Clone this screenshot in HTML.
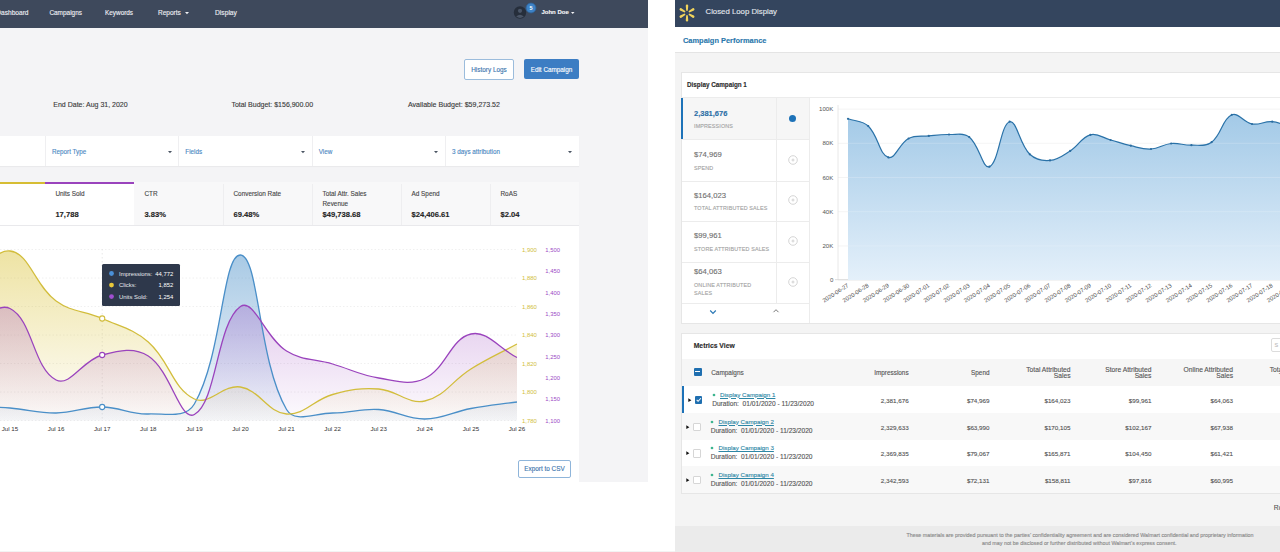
<!DOCTYPE html>
<html><head><meta charset="utf-8"><style>*{margin:0;padding:0;box-sizing:border-box}
html,body{width:1280px;height:552px;overflow:hidden;background:#fff;font-family:"Liberation Sans",sans-serif}
.a{position:absolute;white-space:nowrap;-webkit-text-stroke:0.12px currentColor}
#L{position:absolute;left:0;top:0;width:648px;height:482px;background:#f4f4f6;overflow:hidden}
#R{position:absolute;left:675px;top:0;width:605px;height:552px;background:#f4f4f4;overflow:hidden}
</style></head><body>
<div id="L">
<div class="a" style="left:0;top:0;width:648px;height:27.6px;background:#3e495c"></div>
<div class="a" style="left:-271.5px;width:300px;text-align:right;top:7.90px;font-size:6.6px;line-height:10px;color:#eef0f4;font-weight:normal;">Dashboard</div>
<div class="a" style="left:49.4px;top:7.90px;font-size:6.45px;line-height:10px;color:#eef0f4;font-weight:normal;">Campaigns</div>
<div class="a" style="left:105px;top:7.90px;font-size:6.4px;line-height:10px;color:#eef0f4;font-weight:normal;">Keywords</div>
<div class="a" style="left:158px;top:7.90px;font-size:6.5px;line-height:10px;color:#eef0f4;font-weight:normal;">Reports</div>
<svg class="a" style="left:183.50px;top:11.20px" width="6.00" height="4.20" viewBox="-1 -1 6.00 4.20"><path d="M0,0H4L2.0,2.2Z" fill="#eef0f4"/></svg>
<div class="a" style="left:215px;top:7.90px;font-size:6.7px;line-height:10px;color:#eef0f4;font-weight:normal;">Display</div>
<svg class="a" style="left:510px;top:2px" width="30" height="22" viewBox="0 0 30 22"><circle cx="10" cy="10.5" r="6.2" fill="#262e3b"/><circle cx="10" cy="8.8" r="2.1" fill="#4a5567"/><path d="M6.2,14.6 Q10,10.8 13.8,14.6 Q10,17.2 6.2,14.6Z" fill="#4a5567"/><circle cx="21" cy="6" r="5" fill="#3d82c6" stroke="#2f5f93" stroke-width="0.8"/><text x="21" y="8" font-size="5.5" font-weight="bold" fill="#fff" text-anchor="middle" font-family="Liberation Sans">5</text></svg>
<div class="a" style="left:541.4px;top:7.30px;font-size:6.0px;line-height:10px;color:#f4f5f7;font-weight:bold;">John Doe</div>
<svg class="a" style="left:569.55px;top:10.90px" width="5.50" height="4.00" viewBox="-1 -1 5.50 4.00"><path d="M0,0H3.5L1.75,2Z" fill="#f4f5f7"/></svg>
<div class="a" style="left:464px;top:59px;width:50px;height:21px;background:#fff;border:1px solid #9bbcdc;border-radius:2px"></div>
<div class="a" style="left:339px;width:300px;text-align:center;top:64.60px;font-size:6.4px;line-height:10px;color:#3a74ad;font-weight:normal;">History Logs</div>
<div class="a" style="left:524px;top:59px;width:55px;height:20px;background:#3c7dc3;border-radius:2px"></div>
<div class="a" style="left:401.5px;width:300px;text-align:center;top:64.50px;font-size:6.35px;line-height:10px;color:#ffffff;font-weight:normal;">Edit Campaign</div>
<div class="a" style="left:53.3px;top:99.80px;font-size:7.0px;line-height:10px;color:#3a3a3a;font-weight:normal;">End Date: Aug 31, 2020</div>
<div class="a" style="left:231.4px;top:99.80px;font-size:7.0px;line-height:10px;color:#3a3a3a;font-weight:normal;">Total Budget: $156,900.00</div>
<div class="a" style="left:408px;top:99.80px;font-size:7.05px;line-height:10px;color:#3a3a3a;font-weight:normal;">Available Budget: $59,273.52</div>
<div class="a" style="left:0;top:136px;width:579px;height:30px;background:#fff;box-shadow:0 1px 1px rgba(0,0,0,0.04)"></div>
<div class="a" style="left:45.0px;top:136px;width:1px;height:30px;background:#efeff1"></div>
<div class="a" style="left:178.3px;top:136px;width:1px;height:30px;background:#efeff1"></div>
<div class="a" style="left:311.7px;top:136px;width:1px;height:30px;background:#efeff1"></div>
<div class="a" style="left:445.0px;top:136px;width:1px;height:30px;background:#efeff1"></div>
<div class="a" style="left:52px;top:147.00px;font-size:6.3px;line-height:10px;color:#4a87c2;font-weight:normal;">Report Type</div>
<div class="a" style="left:185.3px;top:147.00px;font-size:6.3px;line-height:10px;color:#4a87c2;font-weight:normal;">Fields</div>
<div class="a" style="left:318.7px;top:147.00px;font-size:6.3px;line-height:10px;color:#4a87c2;font-weight:normal;">View</div>
<div class="a" style="left:452px;top:147.00px;font-size:6.3px;line-height:10px;color:#4a87c2;font-weight:normal;">3 days attribution</div>
<svg class="a" style="left:166.70px;top:150.15px" width="6.00" height="4.30" viewBox="-1 -1 6.00 4.30"><path d="M0,0H4L2.0,2.3Z" fill="#4b5563"/></svg>
<svg class="a" style="left:299.80px;top:150.15px" width="6.00" height="4.30" viewBox="-1 -1 6.00 4.30"><path d="M0,0H4L2.0,2.3Z" fill="#4b5563"/></svg>
<svg class="a" style="left:433.20px;top:150.15px" width="6.00" height="4.30" viewBox="-1 -1 6.00 4.30"><path d="M0,0H4L2.0,2.3Z" fill="#4b5563"/></svg>
<svg class="a" style="left:566.50px;top:150.15px" width="6.00" height="4.30" viewBox="-1 -1 6.00 4.30"><path d="M0,0H4L2.0,2.3Z" fill="#4b5563"/></svg>
<div class="a" style="left:0;top:182px;width:579px;height:43px;background:#f8f8f9"></div>
<div class="a" style="left:0;top:182px;width:45px;height:43px;background:#fff"></div>
<div class="a" style="left:45px;top:182px;width:89px;height:43px;background:#fff"></div>
<div class="a" style="left:0;top:182px;width:45px;height:2.3px;background:#d6bd33"></div>
<div class="a" style="left:45px;top:182px;width:89px;height:2.3px;background:#9a43bd"></div>
<div class="a" style="left:223px;top:184px;width:1px;height:41px;background:#eeeef0"></div>
<div class="a" style="left:312px;top:184px;width:1px;height:41px;background:#eeeef0"></div>
<div class="a" style="left:401px;top:184px;width:1px;height:41px;background:#eeeef0"></div>
<div class="a" style="left:490px;top:184px;width:1px;height:41px;background:#eeeef0"></div>
<div class="a" style="left:55.4px;top:188.80px;font-size:6.4px;line-height:10px;color:#474747;font-weight:normal;">Units Sold</div>
<div class="a" style="left:55.4px;top:209.80px;font-size:7.6px;line-height:10px;color:#1f1f1f;font-weight:bold;">17,788</div>
<div class="a" style="left:144.4px;top:188.80px;font-size:6.4px;line-height:10px;color:#474747;font-weight:normal;">CTR</div>
<div class="a" style="left:144.4px;top:209.80px;font-size:7.6px;line-height:10px;color:#1f1f1f;font-weight:bold;">3.83%</div>
<div class="a" style="left:233.5px;top:188.80px;font-size:6.4px;line-height:10px;color:#474747;font-weight:normal;">Conversion Rate</div>
<div class="a" style="left:233.5px;top:209.80px;font-size:7.6px;line-height:10px;color:#1f1f1f;font-weight:bold;">69.48%</div>
<div class="a" style="left:322.5px;top:188.80px;font-size:6.4px;line-height:10px;color:#474747;font-weight:normal;">Total Attr. Sales</div>
<div class="a" style="left:322.5px;top:209.80px;font-size:7.6px;line-height:10px;color:#1f1f1f;font-weight:bold;">$49,738.68</div>
<div class="a" style="left:411.5px;top:188.80px;font-size:6.4px;line-height:10px;color:#474747;font-weight:normal;">Ad Spend</div>
<div class="a" style="left:411.5px;top:209.80px;font-size:7.6px;line-height:10px;color:#1f1f1f;font-weight:bold;">$24,406.61</div>
<div class="a" style="left:500.5px;top:188.80px;font-size:6.4px;line-height:10px;color:#474747;font-weight:normal;">RoAS</div>
<div class="a" style="left:500.5px;top:209.80px;font-size:7.6px;line-height:10px;color:#1f1f1f;font-weight:bold;">$2.04</div>
<div class="a" style="left:322.5px;top:199.00px;font-size:6.4px;line-height:10px;color:#474747;font-weight:normal;">Revenue</div>
<div class="a" style="left:0;top:225px;width:579px;height:257px;background:#fff"></div>
<div class="a" style="left:0;top:224.5px;width:579px;height:1px;background:#e9e9ec"></div>
<svg class="a" style="left:0;top:225px" width="579" height="257" viewBox="0 225 579 257">
<defs><linearGradient id="gy" x1="0" y1="0" x2="0" y2="1"><stop offset="0" stop-color="#d8c030" stop-opacity="0.44"/><stop offset="1" stop-color="#d8c030" stop-opacity="0.02"/></linearGradient><linearGradient id="gp" x1="0" y1="0" x2="0" y2="1"><stop offset="0" stop-color="#9a43bd" stop-opacity="0.28"/><stop offset="1" stop-color="#9a43bd" stop-opacity="0.02"/></linearGradient><linearGradient id="gb" x1="0" y1="0" x2="0" y2="1"><stop offset="0" stop-color="#4a8fc8" stop-opacity="0.48"/><stop offset="1" stop-color="#4a8fc8" stop-opacity="0.05"/></linearGradient><clipPath id="cpl"><rect x="0" y="225" width="517.5" height="200"/></clipPath></defs>
<line x1="0" y1="249.5" x2="517" y2="249.5" stroke="#ececec" stroke-width="0.8" stroke-dasharray="1.5,2"/>
<line x1="0" y1="278" x2="517" y2="278" stroke="#ececec" stroke-width="0.8" stroke-dasharray="1.5,2"/>
<line x1="0" y1="306.5" x2="517" y2="306.5" stroke="#ececec" stroke-width="0.8" stroke-dasharray="1.5,2"/>
<line x1="0" y1="335" x2="517" y2="335" stroke="#ececec" stroke-width="0.8" stroke-dasharray="1.5,2"/>
<line x1="0" y1="363.5" x2="517" y2="363.5" stroke="#ececec" stroke-width="0.8" stroke-dasharray="1.5,2"/>
<line x1="0" y1="392" x2="517" y2="392" stroke="#ececec" stroke-width="0.8" stroke-dasharray="1.5,2"/>
<line x1="0" y1="420.5" x2="517" y2="420.5" stroke="#ececec" stroke-width="0.8" stroke-dasharray="1.5,2"/>
<line x1="102.2" y1="249" x2="102.2" y2="421" stroke="#e2e2e2" stroke-width="0.8" stroke-dasharray="1.5,2.5"/>
<g clip-path="url(#cpl)">
<path d="M-36.09,406.00C-17.65,406.80 -8.39,406.60 10.00,408.00C28.48,409.40 37.68,413.20 56.09,413.00C74.55,412.80 83.77,406.80 102.18,407.00C120.64,407.20 129.94,414.60 148.27,414.00C166.81,413.40 185.80,418.77 194.36,404.00C222.67,355.17 222.32,253.92 240.45,255.00C259.19,256.12 257.88,360.38 286.54,409.50C294.76,423.58 314.19,413.00 332.63,413.00C351.07,413.00 360.45,408.31 378.72,409.50C397.32,410.71 406.42,419.20 424.81,419.00C443.29,418.80 452.32,411.93 470.90,408.50C489.19,405.13 498.55,404.60 516.99,402.00L517,420.5L-36.09,420.5Z" fill="url(#gb)"/>
<path d="M-36.09,292.00C-17.65,275.60 -7.54,249.29 10.00,251.00C29.33,252.89 34.71,285.35 56.09,301.00C71.59,312.35 84.19,310.50 102.18,318.50C121.06,326.90 133.01,328.68 148.27,342.00C169.89,360.88 172.01,388.09 194.36,399.00C208.88,406.09 223.07,384.17 240.45,387.00C259.94,390.17 267.50,412.45 286.54,414.00C304.38,415.45 313.50,399.69 332.63,394.50C350.37,389.69 360.52,387.72 378.72,389.00C397.39,390.32 407.88,404.67 424.81,401.00C444.75,396.67 451.84,380.79 470.90,369.00C488.71,357.99 498.55,354.00 516.99,344.00L517,420.5L-36.09,420.5Z" fill="url(#gy)"/>
<path d="M-36.09,335.00C-17.65,324.40 -4.18,301.58 10.00,308.50C32.69,319.58 33.28,368.49 56.09,380.00C70.15,387.09 82.56,360.11 102.18,355.00C119.43,350.51 134.17,346.90 148.27,356.00C171.04,370.70 180.05,422.18 194.36,414.50C216.92,402.38 216.59,322.93 240.45,306.50C253.47,297.53 265.44,337.84 286.54,351.00C302.31,360.84 314.25,358.62 332.63,364.00C351.12,369.42 359.88,375.04 378.72,378.00C396.75,380.84 409.38,385.86 424.81,378.50C446.25,368.26 450.50,338.65 470.90,334.00C487.37,330.25 498.55,348.10 516.99,357.50L517,420.5L-36.09,420.5Z" fill="url(#gp)"/>
<path d="M-36.09,406.00C-17.65,406.80 -8.39,406.60 10.00,408.00C28.48,409.40 37.68,413.20 56.09,413.00C74.55,412.80 83.77,406.80 102.18,407.00C120.64,407.20 129.94,414.60 148.27,414.00C166.81,413.40 185.80,418.77 194.36,404.00C222.67,355.17 222.32,253.92 240.45,255.00C259.19,256.12 257.88,360.38 286.54,409.50C294.76,423.58 314.19,413.00 332.63,413.00C351.07,413.00 360.45,408.31 378.72,409.50C397.32,410.71 406.42,419.20 424.81,419.00C443.29,418.80 452.32,411.93 470.90,408.50C489.19,405.13 498.55,404.60 516.99,402.00" fill="none" stroke="#4a8fc8" stroke-width="1.3"/>
<path d="M-36.09,292.00C-17.65,275.60 -7.54,249.29 10.00,251.00C29.33,252.89 34.71,285.35 56.09,301.00C71.59,312.35 84.19,310.50 102.18,318.50C121.06,326.90 133.01,328.68 148.27,342.00C169.89,360.88 172.01,388.09 194.36,399.00C208.88,406.09 223.07,384.17 240.45,387.00C259.94,390.17 267.50,412.45 286.54,414.00C304.38,415.45 313.50,399.69 332.63,394.50C350.37,389.69 360.52,387.72 378.72,389.00C397.39,390.32 407.88,404.67 424.81,401.00C444.75,396.67 451.84,380.79 470.90,369.00C488.71,357.99 498.55,354.00 516.99,344.00" fill="none" stroke="#d2bd3c" stroke-width="1.3"/>
<path d="M-36.09,335.00C-17.65,324.40 -4.18,301.58 10.00,308.50C32.69,319.58 33.28,368.49 56.09,380.00C70.15,387.09 82.56,360.11 102.18,355.00C119.43,350.51 134.17,346.90 148.27,356.00C171.04,370.70 180.05,422.18 194.36,414.50C216.92,402.38 216.59,322.93 240.45,306.50C253.47,297.53 265.44,337.84 286.54,351.00C302.31,360.84 314.25,358.62 332.63,364.00C351.12,369.42 359.88,375.04 378.72,378.00C396.75,380.84 409.38,385.86 424.81,378.50C446.25,368.26 450.50,338.65 470.90,334.00C487.37,330.25 498.55,348.10 516.99,357.50" fill="none" stroke="#9a43bd" stroke-width="1.3"/>
</g>
<circle cx="102.18" cy="407" r="2.6" fill="#fff" stroke="#4a8fc8" stroke-width="1.1"/>
<circle cx="102.18" cy="318.5" r="2.6" fill="#fff" stroke="#d2bd3c" stroke-width="1.1"/>
<circle cx="102.18" cy="355" r="2.6" fill="#fff" stroke="#9a43bd" stroke-width="1.1"/>
<rect x="102" y="264" width="78" height="42" rx="1.5" fill="#2e384b"/>
<circle cx="111.5" cy="273.5" r="2.4" fill="#4a90d9"/>
<circle cx="111.5" cy="285.1" r="2.4" fill="#e8c83a"/>
<circle cx="111.5" cy="296.6" r="2.4" fill="#a04fd0"/>
<text x="119" y="275.6" font-size="5.9" fill="#e6e8ec" font-family="Liberation Sans">Impressions:</text>
<text x="173.3" y="275.6" font-size="5.9" fill="#fff" text-anchor="end" font-family="Liberation Sans">44,772</text>
<text x="119" y="287.2" font-size="5.9" fill="#e6e8ec" font-family="Liberation Sans">Clicks:</text>
<text x="173.3" y="287.2" font-size="5.9" fill="#fff" text-anchor="end" font-family="Liberation Sans">1,852</text>
<text x="119" y="298.7" font-size="5.9" fill="#e6e8ec" font-family="Liberation Sans">Units Sold:</text>
<text x="173.3" y="298.7" font-size="5.9" fill="#fff" text-anchor="end" font-family="Liberation Sans">1,254</text>
<text x="522" y="252.0" font-size="5.9" fill="#d0bd3a" font-family="Liberation Sans">1,900</text>
<text x="522" y="280.4" font-size="5.9" fill="#d0bd3a" font-family="Liberation Sans">1,880</text>
<text x="522" y="308.9" font-size="5.9" fill="#d0bd3a" font-family="Liberation Sans">1,860</text>
<text x="522" y="337.4" font-size="5.9" fill="#d0bd3a" font-family="Liberation Sans">1,840</text>
<text x="522" y="365.8" font-size="5.9" fill="#d0bd3a" font-family="Liberation Sans">1,820</text>
<text x="522" y="394.2" font-size="5.9" fill="#d0bd3a" font-family="Liberation Sans">1,800</text>
<text x="522" y="422.7" font-size="5.9" fill="#d0bd3a" font-family="Liberation Sans">1,780</text>
<text x="545.3" y="252.0" font-size="5.9" fill="#9c4bc6" font-family="Liberation Sans">1,500</text>
<text x="545.3" y="273.3" font-size="5.9" fill="#9c4bc6" font-family="Liberation Sans">1,450</text>
<text x="545.3" y="294.7" font-size="5.9" fill="#9c4bc6" font-family="Liberation Sans">1,400</text>
<text x="545.3" y="316.0" font-size="5.9" fill="#9c4bc6" font-family="Liberation Sans">1,350</text>
<text x="545.3" y="337.4" font-size="5.9" fill="#9c4bc6" font-family="Liberation Sans">1,300</text>
<text x="545.3" y="358.7" font-size="5.9" fill="#9c4bc6" font-family="Liberation Sans">1,250</text>
<text x="545.3" y="380.0" font-size="5.9" fill="#9c4bc6" font-family="Liberation Sans">1,200</text>
<text x="545.3" y="401.4" font-size="5.9" fill="#9c4bc6" font-family="Liberation Sans">1,150</text>
<text x="545.3" y="422.7" font-size="5.9" fill="#9c4bc6" font-family="Liberation Sans">1,100</text>
<text x="10.0" y="431.2" font-size="6.2" fill="#333" text-anchor="middle" font-family="Liberation Sans">Jul 15</text>
<text x="56.1" y="431.2" font-size="6.2" fill="#333" text-anchor="middle" font-family="Liberation Sans">Jul 16</text>
<text x="102.2" y="431.2" font-size="6.2" fill="#333" text-anchor="middle" font-family="Liberation Sans">Jul 17</text>
<text x="148.3" y="431.2" font-size="6.2" fill="#333" text-anchor="middle" font-family="Liberation Sans">Jul 18</text>
<text x="194.4" y="431.2" font-size="6.2" fill="#333" text-anchor="middle" font-family="Liberation Sans">Jul 19</text>
<text x="240.5" y="431.2" font-size="6.2" fill="#333" text-anchor="middle" font-family="Liberation Sans">Jul 20</text>
<text x="286.5" y="431.2" font-size="6.2" fill="#333" text-anchor="middle" font-family="Liberation Sans">Jul 21</text>
<text x="332.6" y="431.2" font-size="6.2" fill="#333" text-anchor="middle" font-family="Liberation Sans">Jul 22</text>
<text x="378.7" y="431.2" font-size="6.2" fill="#333" text-anchor="middle" font-family="Liberation Sans">Jul 23</text>
<text x="424.8" y="431.2" font-size="6.2" fill="#333" text-anchor="middle" font-family="Liberation Sans">Jul 24</text>
<text x="470.9" y="431.2" font-size="6.2" fill="#333" text-anchor="middle" font-family="Liberation Sans">Jul 25</text>
<text x="517.0" y="431.2" font-size="6.2" fill="#333" text-anchor="middle" font-family="Liberation Sans">Jul 26</text>
</svg>
<div class="a" style="left:518px;top:460px;width:53px;height:18px;background:#fff;border:1px solid #8fb5da;border-radius:2px"></div>
<div class="a" style="left:394.5px;width:300px;text-align:center;top:464.00px;font-size:6.4px;line-height:10px;color:#3a74ad;font-weight:normal;">Export to CSV</div>
</div>
<div class="a" style="left:0;top:551px;width:675px;height:1px;background:#f3f3f3"></div>
<div id="R">
<div class="a" style="left:0.00px;top:0.00px;width:605.00px;height:27.00px;background:#34455e"></div>
<svg class="a" style="left:3.2px;top:3.7px" width="18" height="18" viewBox="-9 -9 18 18"><g transform="rotate(90)"><path d="M2.9,-0.85L7.2,-1.25A1.25,1.25 0 0 1 7.2,1.25L2.9,0.85A0.85,0.85 0 0 1 2.9,-0.85Z" fill="#f0d35c"/></g><g transform="rotate(30)"><path d="M2.9,-0.85L7.2,-1.25A1.25,1.25 0 0 1 7.2,1.25L2.9,0.85A0.85,0.85 0 0 1 2.9,-0.85Z" fill="#f0d35c"/></g><g transform="rotate(-30)"><path d="M2.9,-0.85L7.2,-1.25A1.25,1.25 0 0 1 7.2,1.25L2.9,0.85A0.85,0.85 0 0 1 2.9,-0.85Z" fill="#f0d35c"/></g><g transform="rotate(-90)"><path d="M2.9,-0.85L7.2,-1.25A1.25,1.25 0 0 1 7.2,1.25L2.9,0.85A0.85,0.85 0 0 1 2.9,-0.85Z" fill="#f0d35c"/></g><g transform="rotate(-150)"><path d="M2.9,-0.85L7.2,-1.25A1.25,1.25 0 0 1 7.2,1.25L2.9,0.85A0.85,0.85 0 0 1 2.9,-0.85Z" fill="#f0d35c"/></g><g transform="rotate(150)"><path d="M2.9,-0.85L7.2,-1.25A1.25,1.25 0 0 1 7.2,1.25L2.9,0.85A0.85,0.85 0 0 1 2.9,-0.85Z" fill="#f0d35c"/></g></svg>
<div class="a" style="left:30.50px;top:7.00px;font-size:7.8px;line-height:10px;color:#e3e7ee;font-weight:normal;">Closed Loop Display</div>
<div class="a" style="left:0.00px;top:27.00px;width:605.00px;height:25.00px;background:#fff"></div>
<div class="a" style="left:0.00px;top:52.00px;width:605.00px;height:1.00px;background:#e4e4e4"></div>
<div class="a" style="left:8.00px;top:36.00px;font-size:7.45px;line-height:10px;color:#2a77ac;font-weight:bold;">Campaign Performance</div>
<div class="a" style="left:6.00px;top:72.00px;width:620.00px;height:251.50px;background:#fff;border:1px solid #e6e6e6"></div>
<div class="a" style="left:12.00px;top:79.80px;font-size:6.3px;line-height:10px;color:#2b2b2b;font-weight:bold;">Display Campaign 1</div>
<div class="a" style="left:6.00px;top:97.00px;width:620.00px;height:1.00px;background:#ececec"></div>
<div class="a" style="left:7.00px;top:98.00px;width:94.00px;height:41.00px;background:#f6f6f6"></div>
<div class="a" style="left:101.00px;top:98.00px;width:33.00px;height:41.00px;background:#f6f6f6"></div>
<div class="a" style="left:6.30px;top:98.00px;width:2.00px;height:41.00px;background:#1d72b8"></div>
<div class="a" style="left:7.00px;top:139.00px;width:127.00px;height:1.00px;background:#ececec"></div>
<div class="a" style="left:7.00px;top:180.50px;width:127.00px;height:1.00px;background:#ececec"></div>
<div class="a" style="left:7.00px;top:221.30px;width:127.00px;height:1.00px;background:#ececec"></div>
<div class="a" style="left:7.00px;top:262.00px;width:127.00px;height:1.00px;background:#ececec"></div>
<div class="a" style="left:7.00px;top:302.50px;width:127.00px;height:1.00px;background:#ececec"></div>
<div class="a" style="left:101.00px;top:98.00px;width:1.00px;height:204.50px;background:#ececec"></div>
<div class="a" style="left:133.50px;top:98.00px;width:1.00px;height:225.00px;background:#ececec"></div>
<div class="a" style="left:19.00px;top:108.50px;font-size:7.5px;line-height:10px;color:#2a6ea6;font-weight:bold;">2,381,676</div>
<div class="a" style="left:19.00px;top:120.80px;font-size:5.4px;line-height:10px;color:#a3a3a3;font-weight:normal;letter-spacing:0.15px">IMPRESSIONS</div>
<div class="a" style="left:114.20px;top:115.00px;width:7.20px;height:7.20px;background:#1d72b8;border-radius:50%"></div>
<div class="a" style="left:19.00px;top:149.70px;font-size:7.7px;line-height:10px;color:#707070;font-weight:normal;">$74,969</div>
<div class="a" style="left:19.00px;top:162.50px;font-size:5.4px;line-height:10px;color:#a3a3a3;font-weight:normal;letter-spacing:0.15px">SPEND</div>
<svg class="a" style="left:112.60px;top:154.70px" width="10" height="10" viewBox="0 0 10 10"><circle cx="5" cy="5" r="4.3" fill="none" stroke="#cacaca" stroke-width="0.8"/><path d="M3.5,5H6.5M5,3.5V6.5" stroke="#c4c4c4" stroke-width="0.7"/></svg>
<div class="a" style="left:19.00px;top:190.50px;font-size:7.7px;line-height:10px;color:#707070;font-weight:normal;">$164,023</div>
<div class="a" style="left:19.00px;top:203.20px;font-size:5.4px;line-height:10px;color:#a3a3a3;font-weight:normal;letter-spacing:0.15px">TOTAL ATTRIBUTED SALES</div>
<svg class="a" style="left:112.60px;top:195.40px" width="10" height="10" viewBox="0 0 10 10"><circle cx="5" cy="5" r="4.3" fill="none" stroke="#cacaca" stroke-width="0.8"/><path d="M3.5,5H6.5M5,3.5V6.5" stroke="#c4c4c4" stroke-width="0.7"/></svg>
<div class="a" style="left:19.00px;top:231.30px;font-size:7.7px;line-height:10px;color:#707070;font-weight:normal;">$99,961</div>
<div class="a" style="left:19.00px;top:243.50px;font-size:5.4px;line-height:10px;color:#a3a3a3;font-weight:normal;letter-spacing:0.15px">STORE ATTRIBUTED SALES</div>
<svg class="a" style="left:112.60px;top:236.00px" width="10" height="10" viewBox="0 0 10 10"><circle cx="5" cy="5" r="4.3" fill="none" stroke="#cacaca" stroke-width="0.8"/><path d="M3.5,5H6.5M5,3.5V6.5" stroke="#c4c4c4" stroke-width="0.7"/></svg>
<div class="a" style="left:19.00px;top:267.40px;font-size:7.7px;line-height:10px;color:#707070;font-weight:normal;">$64,063</div>
<div class="a" style="left:19.00px;top:279.50px;font-size:5.4px;line-height:10px;color:#a3a3a3;font-weight:normal;letter-spacing:0.15px">ONLINE ATTRIBUTED</div>
<div class="a" style="left:19.00px;top:287.70px;font-size:5.4px;line-height:10px;color:#a3a3a3;font-weight:normal;letter-spacing:0.15px">SALES</div>
<svg class="a" style="left:112.60px;top:277.00px" width="10" height="10" viewBox="0 0 10 10"><circle cx="5" cy="5" r="4.3" fill="none" stroke="#cacaca" stroke-width="0.8"/><path d="M3.5,5H6.5M5,3.5V6.5" stroke="#c4c4c4" stroke-width="0.7"/></svg>
<svg class="a" style="left:34px;top:308.5px" width="8" height="6" viewBox="0 0 8 6"><path d="M1.2,1.5L4,4.3L6.8,1.5" fill="none" stroke="#2a77b5" stroke-width="1.2"/></svg>
<svg class="a" style="left:97px;top:308px" width="8" height="6" viewBox="0 0 8 6"><path d="M1.5,4.2L4,1.7L6.5,4.2" fill="none" stroke="#666" stroke-width="0.9"/></svg>
<svg class="a" style="left:134px;top:97px" width="480" height="226" viewBox="809 97 480 226">
<defs><linearGradient id="gr" gradientUnits="userSpaceOnUse" x1="0" y1="112" x2="0" y2="280"><stop offset="0" stop-color="#a2c9e7"/><stop offset="1" stop-color="#e4f0fa"/></linearGradient></defs>
<line x1="838" y1="109.1" x2="1290" y2="109.1" stroke="#f1f1f1" stroke-width="0.8"/>
<text x="833.3" y="111.2" font-size="6.1" fill="#555" text-anchor="end" font-family="Liberation Sans">100K</text>
<line x1="838" y1="143.3" x2="1290" y2="143.3" stroke="#f1f1f1" stroke-width="0.8"/>
<text x="833.3" y="145.4" font-size="6.1" fill="#555" text-anchor="end" font-family="Liberation Sans">80K</text>
<line x1="838" y1="177.5" x2="1290" y2="177.5" stroke="#f1f1f1" stroke-width="0.8"/>
<text x="833.3" y="179.6" font-size="6.1" fill="#555" text-anchor="end" font-family="Liberation Sans">60K</text>
<line x1="838" y1="211.7" x2="1290" y2="211.7" stroke="#f1f1f1" stroke-width="0.8"/>
<text x="833.3" y="213.8" font-size="6.1" fill="#555" text-anchor="end" font-family="Liberation Sans">40K</text>
<line x1="838" y1="245.9" x2="1290" y2="245.9" stroke="#f1f1f1" stroke-width="0.8"/>
<text x="833.3" y="248.0" font-size="6.1" fill="#555" text-anchor="end" font-family="Liberation Sans">20K</text>
<line x1="838" y1="280.1" x2="1290" y2="280.1" stroke="#f1f1f1" stroke-width="0.8"/>
<text x="833.3" y="282.2" font-size="6.1" fill="#555" text-anchor="end" font-family="Liberation Sans">0</text>
<line x1="838" y1="105" x2="838" y2="280" stroke="#e2e2e2" stroke-width="0.8"/>
<line x1="835" y1="279.7" x2="1290" y2="279.7" stroke="#d8d8d8" stroke-width="0.9"/>
<path d="M848.00,118.80C856.08,121.68 862.30,120.37 868.20,126.00C878.46,135.81 879.12,154.53 888.40,157.40C895.28,159.53 899.29,143.45 908.60,138.50C915.45,134.85 920.70,136.70 928.80,135.90C936.86,135.10 940.94,134.28 949.00,134.50C957.10,134.72 963.35,132.34 969.20,137.00C979.51,145.22 982.59,169.28 989.40,166.70C998.75,163.16 1000.51,124.49 1009.60,121.70C1016.67,119.53 1019.38,144.31 1029.80,154.30C1035.54,159.79 1042.15,161.06 1050.00,160.40C1058.31,159.70 1062.71,155.65 1070.20,150.90C1078.87,145.41 1081.46,137.21 1090.40,134.80C1097.62,132.85 1102.55,137.83 1110.60,140.00C1118.71,142.19 1122.62,143.88 1130.80,145.70C1138.78,147.48 1143.01,149.44 1151.00,149.00C1159.17,148.56 1162.99,144.27 1171.20,143.50C1179.15,142.75 1183.35,145.46 1191.40,145.20C1199.51,144.94 1205.54,146.76 1211.60,142.20C1221.70,134.60 1222.02,119.21 1231.80,114.80C1238.18,111.93 1243.57,122.56 1252.00,124.00C1259.73,125.32 1264.28,120.92 1272.20,121.70C1280.44,122.52 1284.32,125.48 1292.40,128.00L1292.4,280L848,280Z" fill="url(#gr)"/>
<line x1="848" y1="143.3" x2="1290" y2="143.3" stroke="#fff" stroke-opacity="0.22" stroke-width="0.9"/>
<line x1="848" y1="177.5" x2="1290" y2="177.5" stroke="#fff" stroke-opacity="0.22" stroke-width="0.9"/>
<line x1="848" y1="211.7" x2="1290" y2="211.7" stroke="#fff" stroke-opacity="0.22" stroke-width="0.9"/>
<line x1="848" y1="245.9" x2="1290" y2="245.9" stroke="#fff" stroke-opacity="0.22" stroke-width="0.9"/>
<path d="M848.00,118.80C856.08,121.68 862.30,120.37 868.20,126.00C878.46,135.81 879.12,154.53 888.40,157.40C895.28,159.53 899.29,143.45 908.60,138.50C915.45,134.85 920.70,136.70 928.80,135.90C936.86,135.10 940.94,134.28 949.00,134.50C957.10,134.72 963.35,132.34 969.20,137.00C979.51,145.22 982.59,169.28 989.40,166.70C998.75,163.16 1000.51,124.49 1009.60,121.70C1016.67,119.53 1019.38,144.31 1029.80,154.30C1035.54,159.79 1042.15,161.06 1050.00,160.40C1058.31,159.70 1062.71,155.65 1070.20,150.90C1078.87,145.41 1081.46,137.21 1090.40,134.80C1097.62,132.85 1102.55,137.83 1110.60,140.00C1118.71,142.19 1122.62,143.88 1130.80,145.70C1138.78,147.48 1143.01,149.44 1151.00,149.00C1159.17,148.56 1162.99,144.27 1171.20,143.50C1179.15,142.75 1183.35,145.46 1191.40,145.20C1199.51,144.94 1205.54,146.76 1211.60,142.20C1221.70,134.60 1222.02,119.21 1231.80,114.80C1238.18,111.93 1243.57,122.56 1252.00,124.00C1259.73,125.32 1264.28,120.92 1272.20,121.70C1280.44,122.52 1284.32,125.48 1292.40,128.00" fill="none" stroke="#2a72a8" stroke-width="1.2"/>
<circle cx="848.0" cy="118.8" r="1.1" fill="#2a6ca0"/>
<circle cx="868.2" cy="126" r="1.1" fill="#2a6ca0"/>
<circle cx="888.4" cy="157.4" r="1.1" fill="#2a6ca0"/>
<circle cx="908.6" cy="138.5" r="1.1" fill="#2a6ca0"/>
<circle cx="928.8" cy="135.9" r="1.1" fill="#2a6ca0"/>
<circle cx="949.0" cy="134.5" r="1.1" fill="#2a6ca0"/>
<circle cx="969.2" cy="137" r="1.1" fill="#2a6ca0"/>
<circle cx="989.4" cy="166.7" r="1.1" fill="#2a6ca0"/>
<circle cx="1009.6" cy="121.7" r="1.1" fill="#2a6ca0"/>
<circle cx="1029.8" cy="154.3" r="1.1" fill="#2a6ca0"/>
<circle cx="1050.0" cy="160.4" r="1.1" fill="#2a6ca0"/>
<circle cx="1070.2" cy="150.9" r="1.1" fill="#2a6ca0"/>
<circle cx="1090.4" cy="134.8" r="1.1" fill="#2a6ca0"/>
<circle cx="1110.6" cy="140" r="1.1" fill="#2a6ca0"/>
<circle cx="1130.8" cy="145.7" r="1.1" fill="#2a6ca0"/>
<circle cx="1151.0" cy="149" r="1.1" fill="#2a6ca0"/>
<circle cx="1171.2" cy="143.5" r="1.1" fill="#2a6ca0"/>
<circle cx="1191.4" cy="145.2" r="1.1" fill="#2a6ca0"/>
<circle cx="1211.6" cy="142.2" r="1.1" fill="#2a6ca0"/>
<circle cx="1231.8" cy="114.8" r="1.1" fill="#2a6ca0"/>
<circle cx="1252.0" cy="124" r="1.1" fill="#2a6ca0"/>
<circle cx="1272.2" cy="121.7" r="1.1" fill="#2a6ca0"/>
<circle cx="1292.4" cy="128" r="1.1" fill="#2a6ca0"/>
<text x="0" y="0" font-size="5.85" fill="#4a4a4a" text-anchor="end" font-family="Liberation Sans" transform="translate(849.1,286.4) rotate(-33.4)">2020-06-27</text>
<text x="0" y="0" font-size="5.85" fill="#4a4a4a" text-anchor="end" font-family="Liberation Sans" transform="translate(869.3,286.4) rotate(-33.4)">2020-06-28</text>
<text x="0" y="0" font-size="5.85" fill="#4a4a4a" text-anchor="end" font-family="Liberation Sans" transform="translate(889.5,286.4) rotate(-33.4)">2020-06-29</text>
<text x="0" y="0" font-size="5.85" fill="#4a4a4a" text-anchor="end" font-family="Liberation Sans" transform="translate(909.7,286.4) rotate(-33.4)">2020-06-30</text>
<text x="0" y="0" font-size="5.85" fill="#4a4a4a" text-anchor="end" font-family="Liberation Sans" transform="translate(929.9,286.4) rotate(-33.4)">2020-07-01</text>
<text x="0" y="0" font-size="5.85" fill="#4a4a4a" text-anchor="end" font-family="Liberation Sans" transform="translate(950.1,286.4) rotate(-33.4)">2020-07-02</text>
<text x="0" y="0" font-size="5.85" fill="#4a4a4a" text-anchor="end" font-family="Liberation Sans" transform="translate(970.3,286.4) rotate(-33.4)">2020-07-03</text>
<text x="0" y="0" font-size="5.85" fill="#4a4a4a" text-anchor="end" font-family="Liberation Sans" transform="translate(990.5,286.4) rotate(-33.4)">2020-07-04</text>
<text x="0" y="0" font-size="5.85" fill="#4a4a4a" text-anchor="end" font-family="Liberation Sans" transform="translate(1010.7,286.4) rotate(-33.4)">2020-07-05</text>
<text x="0" y="0" font-size="5.85" fill="#4a4a4a" text-anchor="end" font-family="Liberation Sans" transform="translate(1030.9,286.4) rotate(-33.4)">2020-07-06</text>
<text x="0" y="0" font-size="5.85" fill="#4a4a4a" text-anchor="end" font-family="Liberation Sans" transform="translate(1051.1,286.4) rotate(-33.4)">2020-07-07</text>
<text x="0" y="0" font-size="5.85" fill="#4a4a4a" text-anchor="end" font-family="Liberation Sans" transform="translate(1071.3,286.4) rotate(-33.4)">2020-07-08</text>
<text x="0" y="0" font-size="5.85" fill="#4a4a4a" text-anchor="end" font-family="Liberation Sans" transform="translate(1091.5,286.4) rotate(-33.4)">2020-07-09</text>
<text x="0" y="0" font-size="5.85" fill="#4a4a4a" text-anchor="end" font-family="Liberation Sans" transform="translate(1111.7,286.4) rotate(-33.4)">2020-07-10</text>
<text x="0" y="0" font-size="5.85" fill="#4a4a4a" text-anchor="end" font-family="Liberation Sans" transform="translate(1131.9,286.4) rotate(-33.4)">2020-07-11</text>
<text x="0" y="0" font-size="5.85" fill="#4a4a4a" text-anchor="end" font-family="Liberation Sans" transform="translate(1152.1,286.4) rotate(-33.4)">2020-07-12</text>
<text x="0" y="0" font-size="5.85" fill="#4a4a4a" text-anchor="end" font-family="Liberation Sans" transform="translate(1172.3,286.4) rotate(-33.4)">2020-07-13</text>
<text x="0" y="0" font-size="5.85" fill="#4a4a4a" text-anchor="end" font-family="Liberation Sans" transform="translate(1192.5,286.4) rotate(-33.4)">2020-07-14</text>
<text x="0" y="0" font-size="5.85" fill="#4a4a4a" text-anchor="end" font-family="Liberation Sans" transform="translate(1212.7,286.4) rotate(-33.4)">2020-07-15</text>
<text x="0" y="0" font-size="5.85" fill="#4a4a4a" text-anchor="end" font-family="Liberation Sans" transform="translate(1232.9,286.4) rotate(-33.4)">2020-07-16</text>
<text x="0" y="0" font-size="5.85" fill="#4a4a4a" text-anchor="end" font-family="Liberation Sans" transform="translate(1253.1,286.4) rotate(-33.4)">2020-07-17</text>
<text x="0" y="0" font-size="5.85" fill="#4a4a4a" text-anchor="end" font-family="Liberation Sans" transform="translate(1273.3,286.4) rotate(-33.4)">2020-07-18</text>
<text x="0" y="0" font-size="5.85" fill="#4a4a4a" text-anchor="end" font-family="Liberation Sans" transform="translate(1293.5,286.4) rotate(-33.4)">2020-07-19</text>
</svg>
<div class="a" style="left:6.00px;top:333.00px;width:620.00px;height:160.50px;background:#fff;border:1px solid #e6e6e6"></div>
<div class="a" style="left:18.70px;top:340.90px;font-size:6.8px;line-height:10px;color:#2b2b2b;font-weight:bold;">Metrics View</div>
<div class="a" style="left:595.50px;top:338.40px;width:30.00px;height:14.00px;background:#fff;border:1px solid #dcdcdc;border-radius:2px"></div>
<div class="a" style="left:599.50px;top:340.40px;font-size:5.5px;line-height:10px;color:#bbb;font-weight:normal;">S</div>
<div class="a" style="left:7.00px;top:358.50px;width:620.00px;height:27.00px;background:#f6f6f6"></div>
<div class="a" style="left:18.70px;top:367.60px;width:8.00px;height:8.00px;background:#1f6fb0;border-radius:1px"></div>
<div class="a" style="left:20.30px;top:371.10px;width:4.80px;height:1.10px;background:#fff"></div>
<div class="a" style="left:36.20px;top:367.70px;font-size:6.45px;line-height:10px;color:#555;font-weight:normal;">Campaigns</div>
<div class="a" style="left:-66.40px;width:300px;text-align:right;top:368.20px;font-size:6.4px;line-height:10px;color:#555;font-weight:normal;">Impressions</div>
<div class="a" style="left:14.50px;width:300px;text-align:right;top:368.20px;font-size:6.4px;line-height:10px;color:#555;font-weight:normal;">Spend</div>
<div class="a" style="left:95.50px;width:300px;text-align:right;top:364.70px;font-size:6.7px;line-height:10px;color:#555;font-weight:normal;">Total Attributed</div>
<div class="a" style="left:95.50px;width:300px;text-align:right;top:371.30px;font-size:6.7px;line-height:10px;color:#555;font-weight:normal;">Sales</div>
<div class="a" style="left:176.40px;width:300px;text-align:right;top:364.70px;font-size:6.7px;line-height:10px;color:#555;font-weight:normal;">Store Attributed</div>
<div class="a" style="left:176.40px;width:300px;text-align:right;top:371.30px;font-size:6.7px;line-height:10px;color:#555;font-weight:normal;">Sales</div>
<div class="a" style="left:258.00px;width:300px;text-align:right;top:364.70px;font-size:6.7px;line-height:10px;color:#555;font-weight:normal;">Online Attributed</div>
<div class="a" style="left:258.00px;width:300px;text-align:right;top:371.30px;font-size:6.7px;line-height:10px;color:#555;font-weight:normal;">Sales</div>
<div class="a" style="left:339.00px;width:300px;text-align:right;top:364.70px;font-size:6.7px;line-height:10px;color:#555;font-weight:normal;">Total Attributed</div>
<div class="a" style="left:339.00px;width:300px;text-align:right;top:371.30px;font-size:6.7px;line-height:10px;color:#555;font-weight:normal;">Total ROAS</div>
<div class="a" style="left:7.00px;top:385.50px;width:620.00px;height:27.50px;background:#fff"></div>
<div class="a" style="left:7.00px;top:386.00px;width:2.00px;height:27.00px;background:#1d72b8"></div>
<svg class="a" style="left:12.80px;top:397.65px" width="4" height="5" viewBox="0 0 4 5"><path d="M0.3,0.3L3.4,2.2L0.3,4.1Z" fill="#111"/></svg>
<div class="a" style="left:20.00px;top:396.05px;width:7.40px;height:7.80px;background:#1f6fb0;border-radius:1px"></div>
<svg class="a" style="left:20px;top:396.15px" width="7.5" height="7.5" viewBox="0 0 8 8"><path d="M1.8,4.1L3.3,5.6L6.3,2.4" fill="none" stroke="#fff" stroke-width="1.1"/></svg>
<svg class="a" style="left:36.50px;top:392.65px" width="4" height="4" viewBox="0 0 4 4"><circle cx="2" cy="2" r="1.35" fill="#3db58f"/></svg>
<div class="a" style="left:45.00px;top:389.75px;font-size:6.2px;line-height:10px;color:#2d87a6;font-weight:normal;text-decoration:underline;text-decoration-thickness:0.6px;text-underline-offset:1px">Display Campaign 1</div>
<div class="a" style="left:37.20px;top:398.85px;font-size:6.6px;line-height:10px;color:#555;font-weight:normal;">Duration:&nbsp; 01/01/2020 - 11/23/2020</div>
<div class="a" style="left:-66.40px;width:300px;text-align:right;top:395.55px;font-size:6.25px;line-height:10px;color:#555;font-weight:normal;">2,381,676</div>
<div class="a" style="left:14.50px;width:300px;text-align:right;top:395.55px;font-size:6.25px;line-height:10px;color:#555;font-weight:normal;">$74,969</div>
<div class="a" style="left:95.50px;width:300px;text-align:right;top:395.55px;font-size:6.25px;line-height:10px;color:#555;font-weight:normal;">$164,023</div>
<div class="a" style="left:176.40px;width:300px;text-align:right;top:395.55px;font-size:6.25px;line-height:10px;color:#555;font-weight:normal;">$99,961</div>
<div class="a" style="left:258.00px;width:300px;text-align:right;top:395.55px;font-size:6.25px;line-height:10px;color:#555;font-weight:normal;">$64,063</div>
<div class="a" style="left:7.00px;top:413.00px;width:620.00px;height:26.50px;background:#f8f8f8"></div>
<svg class="a" style="left:11.30px;top:424.65px" width="4" height="5" viewBox="0 0 4 5"><path d="M0.3,0.3L3.4,2.2L0.3,4.1Z" fill="#111"/></svg>
<div class="a" style="left:18.00px;top:422.75px;width:8.30px;height:8.30px;background:#fff;border:1px solid #d6d6d6;border-radius:1px"></div>
<svg class="a" style="left:35.00px;top:419.65px" width="4" height="4" viewBox="0 0 4 4"><circle cx="2" cy="2" r="1.35" fill="#3db58f"/></svg>
<div class="a" style="left:43.50px;top:416.75px;font-size:6.2px;line-height:10px;color:#2d87a6;font-weight:normal;text-decoration:underline;text-decoration-thickness:0.6px;text-underline-offset:1px">Display Campaign 2</div>
<div class="a" style="left:35.70px;top:425.85px;font-size:6.6px;line-height:10px;color:#555;font-weight:normal;">Duration:&nbsp; 01/01/2020 - 11/23/2020</div>
<div class="a" style="left:-66.40px;width:300px;text-align:right;top:422.55px;font-size:6.25px;line-height:10px;color:#555;font-weight:normal;">2,329,633</div>
<div class="a" style="left:14.50px;width:300px;text-align:right;top:422.55px;font-size:6.25px;line-height:10px;color:#555;font-weight:normal;">$63,990</div>
<div class="a" style="left:95.50px;width:300px;text-align:right;top:422.55px;font-size:6.25px;line-height:10px;color:#555;font-weight:normal;">$170,105</div>
<div class="a" style="left:176.40px;width:300px;text-align:right;top:422.55px;font-size:6.25px;line-height:10px;color:#555;font-weight:normal;">$102,167</div>
<div class="a" style="left:258.00px;width:300px;text-align:right;top:422.55px;font-size:6.25px;line-height:10px;color:#555;font-weight:normal;">$67,938</div>
<div class="a" style="left:7.00px;top:439.50px;width:620.00px;height:26.50px;background:#fff"></div>
<svg class="a" style="left:11.30px;top:451.15px" width="4" height="5" viewBox="0 0 4 5"><path d="M0.3,0.3L3.4,2.2L0.3,4.1Z" fill="#111"/></svg>
<div class="a" style="left:18.00px;top:449.25px;width:8.30px;height:8.30px;background:#fff;border:1px solid #d6d6d6;border-radius:1px"></div>
<svg class="a" style="left:35.00px;top:446.15px" width="4" height="4" viewBox="0 0 4 4"><circle cx="2" cy="2" r="1.35" fill="#3db58f"/></svg>
<div class="a" style="left:43.50px;top:443.25px;font-size:6.2px;line-height:10px;color:#2d87a6;font-weight:normal;text-decoration:underline;text-decoration-thickness:0.6px;text-underline-offset:1px">Display Campaign 3</div>
<div class="a" style="left:35.70px;top:452.35px;font-size:6.6px;line-height:10px;color:#555;font-weight:normal;">Duration:&nbsp; 01/01/2020 - 11/23/2020</div>
<div class="a" style="left:-66.40px;width:300px;text-align:right;top:449.05px;font-size:6.25px;line-height:10px;color:#555;font-weight:normal;">2,369,835</div>
<div class="a" style="left:14.50px;width:300px;text-align:right;top:449.05px;font-size:6.25px;line-height:10px;color:#555;font-weight:normal;">$79,067</div>
<div class="a" style="left:95.50px;width:300px;text-align:right;top:449.05px;font-size:6.25px;line-height:10px;color:#555;font-weight:normal;">$165,871</div>
<div class="a" style="left:176.40px;width:300px;text-align:right;top:449.05px;font-size:6.25px;line-height:10px;color:#555;font-weight:normal;">$104,450</div>
<div class="a" style="left:258.00px;width:300px;text-align:right;top:449.05px;font-size:6.25px;line-height:10px;color:#555;font-weight:normal;">$61,421</div>
<div class="a" style="left:7.00px;top:466.00px;width:620.00px;height:27.00px;background:#f8f8f8"></div>
<svg class="a" style="left:11.30px;top:477.90px" width="4" height="5" viewBox="0 0 4 5"><path d="M0.3,0.3L3.4,2.2L0.3,4.1Z" fill="#111"/></svg>
<div class="a" style="left:18.00px;top:476.00px;width:8.30px;height:8.30px;background:#fff;border:1px solid #d6d6d6;border-radius:1px"></div>
<svg class="a" style="left:35.00px;top:472.90px" width="4" height="4" viewBox="0 0 4 4"><circle cx="2" cy="2" r="1.35" fill="#3db58f"/></svg>
<div class="a" style="left:43.50px;top:470.00px;font-size:6.2px;line-height:10px;color:#2d87a6;font-weight:normal;text-decoration:underline;text-decoration-thickness:0.6px;text-underline-offset:1px">Display Campaign 4</div>
<div class="a" style="left:35.70px;top:479.10px;font-size:6.6px;line-height:10px;color:#555;font-weight:normal;">Duration:&nbsp; 01/01/2020 - 11/23/2020</div>
<div class="a" style="left:-66.40px;width:300px;text-align:right;top:475.80px;font-size:6.25px;line-height:10px;color:#555;font-weight:normal;">2,342,593</div>
<div class="a" style="left:14.50px;width:300px;text-align:right;top:475.80px;font-size:6.25px;line-height:10px;color:#555;font-weight:normal;">$72,131</div>
<div class="a" style="left:95.50px;width:300px;text-align:right;top:475.80px;font-size:6.25px;line-height:10px;color:#555;font-weight:normal;">$158,811</div>
<div class="a" style="left:176.40px;width:300px;text-align:right;top:475.80px;font-size:6.25px;line-height:10px;color:#555;font-weight:normal;">$97,816</div>
<div class="a" style="left:258.00px;width:300px;text-align:right;top:475.80px;font-size:6.25px;line-height:10px;color:#555;font-weight:normal;">$60,995</div>
<div class="a" style="left:598.80px;top:503.30px;font-size:6.8px;line-height:10px;color:#555;font-weight:normal;">Rows</div>
<div class="a" style="left:0.00px;top:526.00px;width:605.00px;height:26.00px;background:#ebebeb"></div>
<div class="a" style="left:105.00px;width:600px;text-align:center;top:530.30px;font-size:5.34px;line-height:10px;color:#8a8a8a;font-weight:normal;">These materials are provided pursuant to the parties’ confidentiality agreement and are considered Walmart confidential and proprietary information</div>
<div class="a" style="left:104.30px;width:600px;text-align:center;top:538.00px;font-size:5.34px;line-height:10px;color:#8a8a8a;font-weight:normal;">and may not be disclosed or further distributed without Walmart’s express consent.</div>
</div>
</body></html>
